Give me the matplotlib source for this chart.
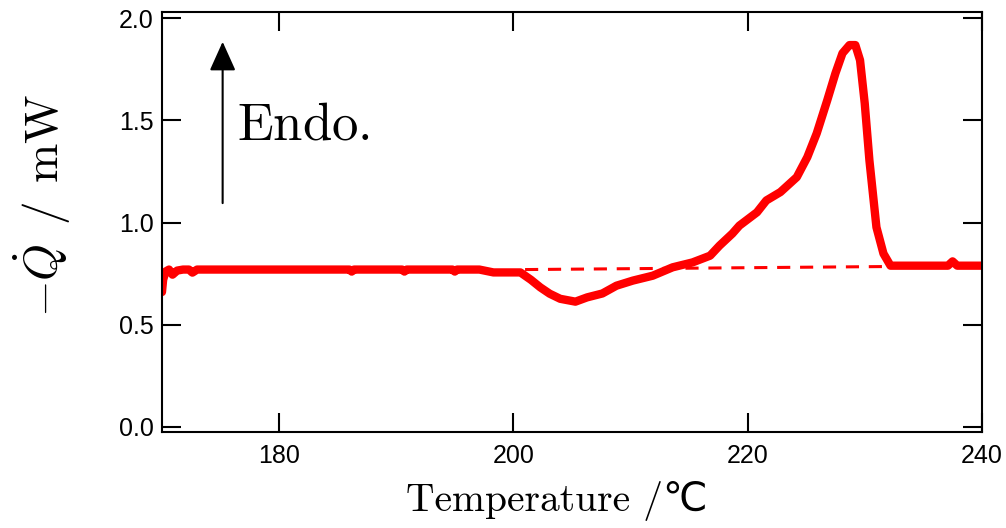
import matplotlib
matplotlib.use("Agg")
import matplotlib.pyplot as plt

plt.rcParams['font.family'] = ['Liberation Sans', 'DejaVu Sans']
plt.rcParams['mathtext.fontset'] = 'cm'

# DSC trace
temp = [170.0, 170.1, 170.3, 170.6, 170.9, 171.3, 171.8, 172.3, 172.6, 173.0,
        180.0, 186.0, 186.2, 186.4, 190.5, 190.7, 190.9, 194.8, 195.0, 195.2,
        197.1, 198.3, 200.6, 201.5, 202.3, 203.1, 204.0, 205.3, 206.3, 207.6,
        208.8, 210.2, 211.9, 213.6, 215.3, 216.8, 217.6, 218.7, 219.3, 220.8,
        221.6, 222.8, 224.2, 225.1, 225.9, 226.8, 227.5, 228.1, 228.7, 229.2,
        229.6, 230.0, 230.4, 231.0, 231.6, 232.2, 237.1, 237.5, 237.9, 240.0]
heat = [0.66, 0.72, 0.76, 0.77, 0.745, 0.765, 0.77, 0.77, 0.755, 0.77,
        0.77, 0.77, 0.76, 0.77, 0.77, 0.76, 0.77, 0.77, 0.76, 0.77,
        0.77, 0.756, 0.756, 0.72, 0.683, 0.652, 0.627, 0.613, 0.634, 0.653,
        0.691, 0.716, 0.74, 0.781, 0.805, 0.838, 0.887, 0.946, 0.985, 1.05,
        1.108, 1.149, 1.222, 1.32, 1.436, 1.598, 1.73, 1.828, 1.868, 1.868,
        1.794, 1.583, 1.304, 0.977, 0.848, 0.789, 0.789, 0.81, 0.789, 0.789]

base_t = [201.0, 232.3]
base_q = [0.770, 0.785]

xticks = [180, 200, 220, 240]
yticks = [0.0, 0.5, 1.0, 1.5, 2.0]

fig = plt.figure(figsize=(10.06, 5.28), dpi=100)
ax = fig.add_axes([0.161, 0.182, 0.815, 0.795])

ax.plot(temp, heat, color='#ff0000', lw=6, solid_capstyle='round', solid_joinstyle='round')
ax.plot(base_t, base_q, color='#ff0000', lw=2.2, dashes=(4.3, 3.2))

ax.set_xlim(170, 240)
ax.set_ylim(-0.024, 2.029)
ax.set_xticks(xticks)
ax.set_yticks(yticks)
ax.set_yticklabels(['%.1f' % v for v in yticks])
ax.tick_params(direction='in', length=14, width=1.5, top=True, right=True, labelsize=18)
ax.tick_params(axis='x', pad=9)
ax.tick_params(axis='y', pad=6)
for s in ax.spines.values():
    s.set_linewidth(1.5)

ax.set_xlabel('Temperature /℃', fontsize=28.5, family=['cmr10', 'DejaVu Sans'])
ax.xaxis.set_label_coords(0.482, -0.118)
ax.set_ylabel(r'$-\dot{Q}\;\,/\;\,\mathrm{mW}$', fontsize=34)
ax.yaxis.set_label_coords(-0.108, 0.54)

# endothermic direction marker
ax.annotate('', xy=(175.18, 1.884), xytext=(175.18, 1.095),
            arrowprops=dict(arrowstyle='-|>,head_length=0.6,head_width=0.27',
                            lw=1.5, color='black', mutation_scale=30,
                            shrinkA=0, shrinkB=0))
ax.text(176.4, 1.475, r'$\mathrm{Endo.}$', fontsize=38, va='center', ha='left')

fig.savefig('out.png', dpi=100)
